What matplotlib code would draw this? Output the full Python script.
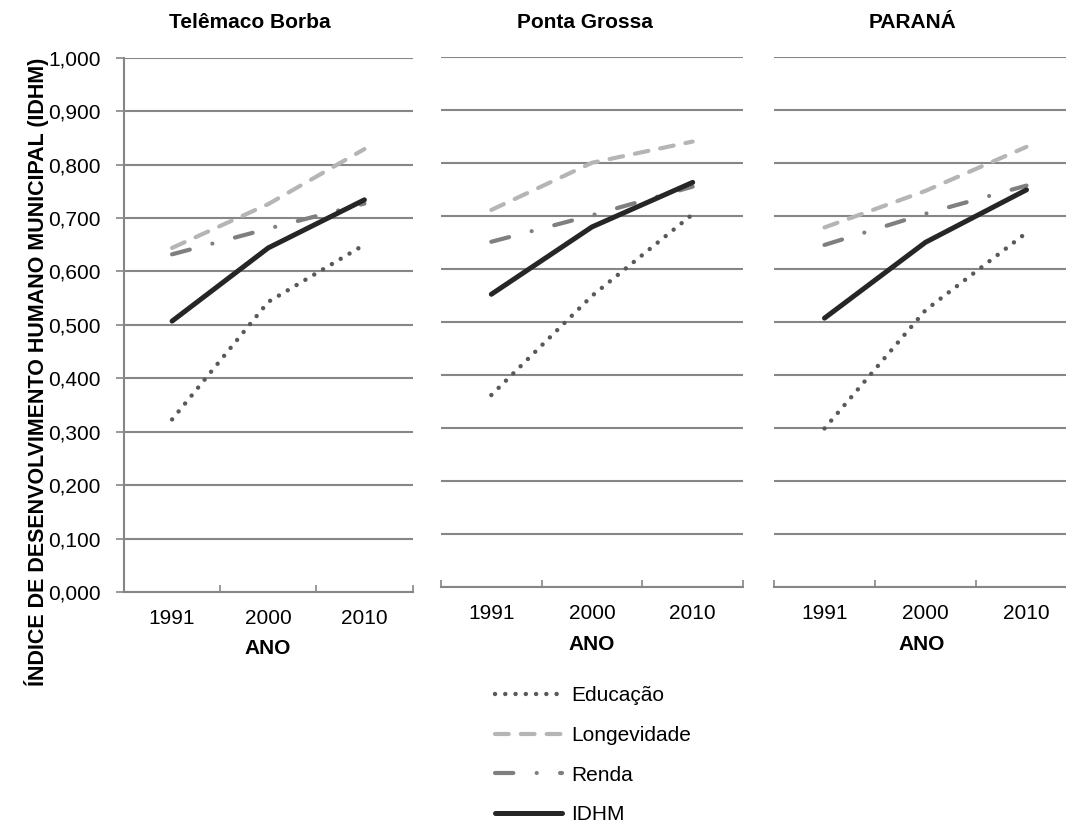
import matplotlib
matplotlib.use("Agg")
import matplotlib.pyplot as plt
from matplotlib.ticker import FuncFormatter

plt.rcParams['font.family'] = ['Liberation Sans', 'DejaVu Sans']

anos = ["1991", "2000", "2010"]
locais = ["Telêmaco Borba", "Ponta Grossa", "PARANÁ"]

# valores (IDHM e dimensões)
educacao = [[0.323, 0.543, 0.650], [0.362, 0.549, 0.703], [0.299, 0.522, 0.668]]
longevidade = [[0.644, 0.726, 0.829], [0.711, 0.800, 0.840], [0.678, 0.747, 0.830]]
renda = [[0.632, 0.680, 0.727], [0.651, 0.701, 0.755], [0.645, 0.704, 0.757]]
idhm = [[0.507, 0.644, 0.734], [0.552, 0.679, 0.763], [0.507, 0.650, 0.749]]

W, H = 1066, 824
fig = plt.figure(figsize=(W / 100, H / 100), dpi=100)

# posições dos painéis em pixels (esq, dir, base, topo)
paineis = [(124, 412.5, 592, 57.7), (441, 743, 587, 56.7), (774, 1077, 587, 56.7)]
titulo_x = [250, 585, 913]
ano_x = [268, 592, 922]
ano_y = [648, 644, 644]

cinza = "#868686"
fs = 15

estilos = {
    "Educação": dict(color="#595959", lw=3.2, dashes=(0.01, 2.3), dash_capstyle="round"),
    "Longevidade": dict(color="#b5b5b5", lw=3.0, dashes=(3.3, 2.9), dash_capstyle="round"),
    "Renda": dict(color="#7f7f7f", lw=3.0, dashes=(4.4, 5.6, 0.01, 5.6), dash_capstyle="round"),
    "IDHM": dict(color="#262626", lw=3.6, solid_capstyle="round"),
}

for i, (l, r, b, t) in enumerate(paineis):
    ax = fig.add_axes([l / W, (H - b) / H, (r - l) / W, (b - t) / H])
    x = range(len(anos))
    ax.plot(x, educacao[i], label="Educação", **estilos["Educação"])
    ax.plot(x, longevidade[i], label="Longevidade", **estilos["Longevidade"])
    ax.plot(x, renda[i], label="Renda", **estilos["Renda"])
    ax.plot(x, idhm[i], label="IDHM", **estilos["IDHM"])

    ax.set_xlim(-0.5, 2.5)
    ax.set_ylim(0, 1.0)
    ax.set_yticks([k / 10 for k in range(11)])
    ax.grid(axis="y", color=cinza, lw=1.5)
    ax.set_axisbelow(True)
    for s in ["top", "right"]:
        ax.spines[s].set_visible(False)
    ax.spines["bottom"].set_color(cinza)
    ax.spines["bottom"].set_linewidth(1.5)
    ax.spines["bottom"].set_zorder(0.5)

    ax.set_xticks(list(x))
    ax.set_xticklabels(anos, fontsize=fs)
    ax.set_xticks([-0.5, 0.5, 1.5, 2.5], minor=True)
    ax.tick_params(axis="x", which="major", length=0, pad=12)
    ax.tick_params(axis="x", which="minor", direction="in", length=5, width=1.2, color=cinza)

    if i == 0:
        ax.spines["left"].set_color(cinza)
        ax.spines["left"].set_linewidth(1.5)
        ax.yaxis.set_major_formatter(FuncFormatter(lambda v, p: f"{v:.3f}".replace(".", ",")))
        ax.tick_params(axis="y", direction="out", length=6, width=1.2, color=cinza,
                       labelsize=fs, pad=11)
    else:
        ax.spines["left"].set_visible(False)
        ax.tick_params(axis="y", length=0, labelleft=False)

    fig.text(titulo_x[i] / W, (H - 22) / H, locais[i], ha="center", va="center",
             fontsize=fs, fontweight="bold")
    fig.text(ano_x[i] / W, (H - ano_y[i]) / H, "ANO", ha="center", va="center",
             fontsize=fs, fontweight="bold")

fig.text(37 / W, (H - 372) / H, "ÍNDICE DE DESENVOLVIMENTO HUMANO MUNICIPAL (IDHM)",
         rotation=90, ha="center", va="center", fontsize=15.5, fontweight="bold")

handles, labels = ax.get_legend_handles_labels()
fig.legend(handles, labels, loc="upper left", bbox_to_anchor=(495 / W, (H - 686) / H),
           frameon=False, fontsize=fs, handlelength=3.2, handletextpad=0.45,
           labelspacing=1.0, borderpad=0, borderaxespad=0)

fig.savefig("out.png", dpi=100)
